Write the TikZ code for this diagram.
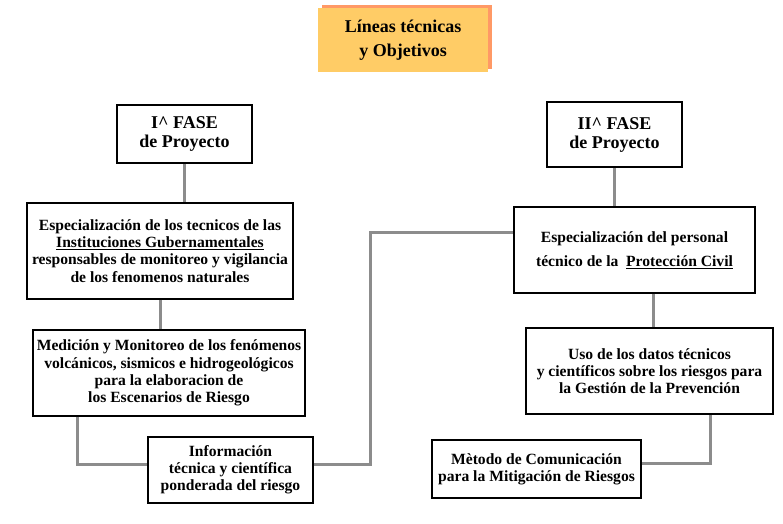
\documentclass[tikz,border=0pt]{standalone}
\usepackage{fontspec}
\setmainfont{Liberation Serif}
\usetikzlibrary{shadows}
\definecolor{titlefill}{HTML}{FFCC66}
\definecolor{titleshadow}{HTML}{FF9966}
\definecolor{linkgray}{HTML}{8C8C8C}

\begin{document}
\begin{tikzpicture}[x=1pt, y=-1pt,
box/.style={
  rectangle, draw, line width=1.5pt,
  align=center, inner sep=0pt,
  font=\bfseries\fontsize{15.6}{17.2}\selectfont
},
fasebox/.style={
  box, minimum width=135pt,
  font=\bfseries\fontsize{18}{19}\selectfont
},
titlebox/.style={
  rectangle, fill=titlefill, align=center,
  minimum width=170pt, minimum height=64pt,
  font=\bfseries\fontsize{18}{24}\selectfont,
  drop shadow={shadow xshift=4pt, shadow yshift=3pt,
    fill=titleshadow, opacity=1}
},
link/.style={draw=linkgray, line width=3pt}]
\useasboundingbox (0,0) rectangle (783,523);

\node (title) [titlebox] at (403,40) {L\'ineas t\'ecnicas\\ y Objetivos};

% I^ fase
\node (fase1) [fasebox, minimum height=58pt] at (184.5,134)
  {I\textasciicircum{} FASE\\ de Proyecto};
\node (esp1) [box, minimum width=266pt, minimum height=96pt] at (160,251)
  {Especializaci\'on de los tecnicos de las\\
   \underline{Instituciones Gubernamentales}\\
   responsables de monitoreo y vigilancia\\
   de los fenomenos naturales};
\node (med) [box, minimum width=272pt, minimum height=86pt] at (169,373)
  {Medici\'on y Monitoreo de los fen\'omenos\\
   volc\'anicos, sismicos e hidrogeol\'ogicos\\
   para la elaboracion de\\
   los Escenarios de Riesgo};
\node (info) [box, minimum width=165pt, minimum height=66pt] at (230.5,470)
  {Informaci\'on\\ t\'ecnica y cient\'ifica\\ ponderada del riesgo};

% II^ fase
\node (fase2) [fasebox, minimum height=65pt] at (614.5,134.5)
  {II\textasciicircum{} FASE\\ de Proyecto};
\node (esp2) [box, minimum width=241pt, minimum height=86pt] at (634.5,250)
  {Especializaci\'on del personal\\[7pt]
   t\'ecnico de la\ \ \underline{Protecci\'on Civil}};
\node (uso) [box, minimum width=247pt, minimum height=86pt] at (649.5,371)
  {Uso de los datos t\'ecnicos\\
   y cient\'ificos sobre los riesgos para\\
   la Gesti\'on de la Prevenci\'on};
\node (met) [box, minimum width=209pt, minimum height=58pt] at (536.5,469)
  {M\`etodo de Comunicaci\'on\\ para la Mitigaci\'on de Riesgos};

% connectors
\coordinate (bend) at (370,232);
\draw[link] (fase1.south) -- (fase1.south |- esp1.north);
\draw[link] (esp1.south) -- (esp1.south |- med.north);
\draw[link] ([xshift=45pt]med.south west) |- ([yshift=6pt]info.west);
\draw[link] ([yshift=6pt]info.east) -| (bend) -- ([yshift=18pt]esp2.west);
\draw[link] (fase2.south) -- (fase2.south |- esp2.north);
\draw[link] ([xshift=18.5pt]esp2.south) -- ([xshift=18.5pt]esp2.south |- uso.north);
\draw[link] ([xshift=60.5pt]uso.south) |- ([yshift=6pt]met.east);
\end{tikzpicture}
\end{document}
